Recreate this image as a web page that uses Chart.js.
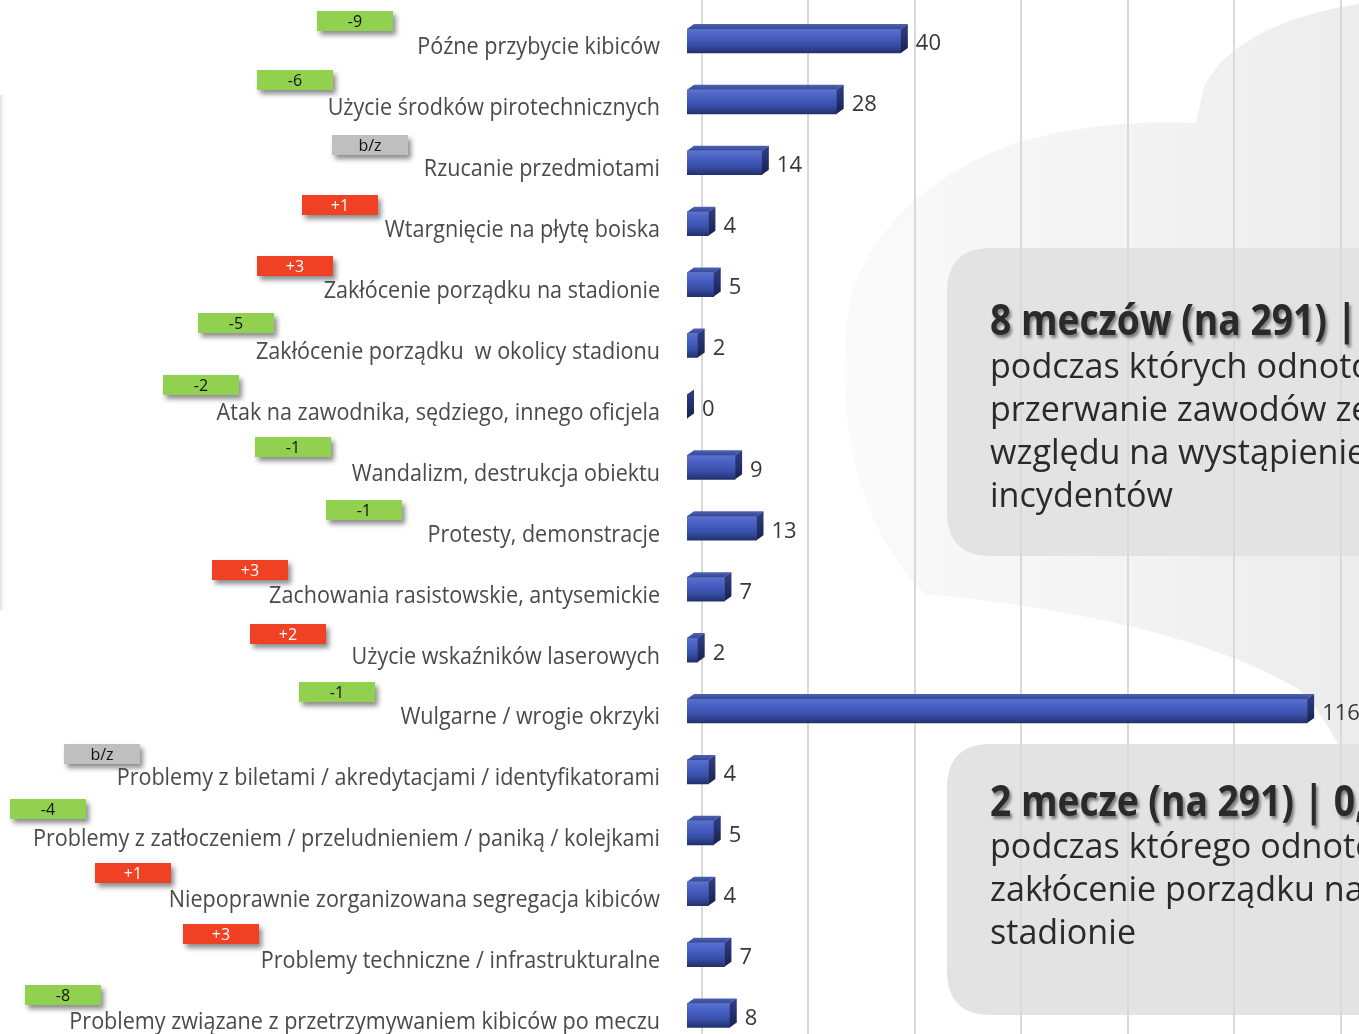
<!DOCTYPE html>
<html><head><meta charset="utf-8">
<script src="https://cdn.jsdelivr.net/npm/chart.js@4.4.1/dist/chart.umd.min.js"></script>
<style>
html,body{margin:0;padding:0;overflow:hidden;background:#fff;width:1359px;height:1034px}
canvas{position:absolute;left:0;top:0}
</style></head>
<body><canvas id="c" width="1359" height="1046"></canvas>
<script>
// ---- data ----
const categories = [
  'Późne przybycie kibiców',
  'Użycie środków pirotechnicznych',
  'Rzucanie przedmiotami',
  'Wtargnięcie na płytę boiska',
  'Zakłócenie porządku na stadionie',
  'Zakłócenie porządku  w okolicy stadionu',
  'Atak na zawodnika, sędziego, innego oficjela',
  'Wandalizm, destrukcja obiektu',
  'Protesty, demonstracje',
  'Zachowania rasistowskie, antysemickie',
  'Użycie wskaźników laserowych',
  'Wulgarne / wrogie okrzyki',
  'Problemy z biletami / akredytacjami / identyfikatorami',
  'Problemy z zatłoczeniem / przeludnieniem / paniką / kolejkami',
  'Niepoprawnie zorganizowana segregacja kibiców',
  'Problemy techniczne / infrastrukturalne',
  'Problemy związane z przetrzymywaniem kibiców po meczu'
];
const values = [40, 28, 14, 4, 5, 2, 0, 9, 13, 7, 2, 116, 4, 5, 4, 7, 8];
const changes = ['-9', '-6', 'b/z', '+1', '+3', '-5', '-2', '-1', '-1', '+3', '+2', '-1', 'b/z', '-4', '+1', '+3', '-8'];
const gridTicks = [0, 20, 40, 60, 80, 100, 120];
const box1Title = '8 meczów (na 291) | 2,7%';
const box1Lines = ['podczas których odnotowano', 'przerwanie zawodów ze', 'względu na wystąpienie', 'incydentów'];
const box2Title = '2 mecze (na 291) | 0,7%';
const box2Lines = ['podczas którego odnotowano', 'zakłócenie porządku na', 'stadionie'];

// ---- layout (positions of change badges) ----
const badgeLeft = [317, 257, 332, 302, 257, 198, 163, 255, 326, 212, 250, 299, 64, 10, 95, 183, 25];
const badgeTopOff = [-30, -32, -28, -29, -29, -33, -31, -30, -28, -29, -26, -29, -28, -34, -31, -31, -31];

const FONT = '"Open Sans", "DejaVu Sans", sans-serif';
const DX = 7, DY = -5;

function badgeStyle(t) {
  if (t === 'b/z') return { bg: '#bfbfbf', fg: '#111' };
  if (t.charAt(0) === '+') return { bg: '#f04124', fg: '#fff' };
  return { bg: '#92d050', fg: '#111' };
}

function fitFactor(ctx, font, sample, target) {
  ctx.save(); ctx.font = font;
  const w = ctx.measureText(sample).width;
  ctx.restore();
  return target / w;
}

function roundRect(ctx, x, y, w, h, r) {
  ctx.beginPath();
  ctx.moveTo(x + r, y);
  ctx.lineTo(x + w - r, y);
  ctx.quadraticCurveTo(x + w, y, x + w, y + r);
  ctx.lineTo(x + w, y + h - r);
  ctx.quadraticCurveTo(x + w, y + h, x + w - r, y + h);
  ctx.lineTo(x + r, y + h);
  ctx.quadraticCurveTo(x, y + h, x, y + h - r);
  ctx.lineTo(x, y + r);
  ctx.quadraticCurveTo(x, y, x + r, y);
  ctx.closePath();
}

const backgroundPlugin = {
  id: 'bgDecor',
  beforeDraw(chart) {
    const ctx = chart.ctx;
    ctx.save();
    ctx.fillStyle = '#fff';
    ctx.fillRect(0, 0, chart.width, chart.height);
    // faint silhouette
    const g = ctx.createLinearGradient(840, 0, 1359, 0);
    g.addColorStop(0, '#fafafa');
    g.addColorStop(0.5, '#f4f4f4');
    g.addColorStop(1, '#ececec');
    ctx.fillStyle = g;
    ctx.beginPath();
    ctx.moveTo(1359, 4);
    ctx.bezierCurveTo(1290, 15, 1225, 40, 1203, 90);
    ctx.lineTo(1196, 123);
    ctx.bezierCurveTo(1150, 120, 1070, 125, 1010, 145);
    ctx.bezierCurveTo(930, 175, 870, 230, 850, 300);
    ctx.bezierCurveTo(835, 400, 850, 520, 925, 594);
    ctx.bezierCurveTo(1040, 605, 1200, 630, 1300, 690);
    ctx.bezierCurveTo(1330, 720, 1345, 760, 1359, 790);
    ctx.closePath();
    ctx.fill();
    // faint left edge
    const lg = ctx.createLinearGradient(0, 0, 6, 0);
    lg.addColorStop(0, 'rgba(200,200,200,0.6)');
    lg.addColorStop(1, 'rgba(255,255,255,0)');
    ctx.fillStyle = lg;
    ctx.fillRect(0, 95, 6, 515);
    // info boxes
    ctx.fillStyle = '#e3e3e3';
    roundRect(ctx, 947, 248, 500, 308, 44); ctx.fill();
    roundRect(ctx, 947, 744, 500, 271, 44); ctx.fill();
    ctx.restore();
  },
  beforeDatasetsDraw(chart) {
    const ctx = chart.ctx;
    const xg = chart.scales.xg;
    ctx.save();
    ctx.strokeStyle = '#d9d9d9';
    ctx.lineWidth = 2;
    gridTicks.forEach(v => {
      const x = Math.round(xg.getPixelForValue(v));
      ctx.beginPath(); ctx.moveTo(x, 0); ctx.lineTo(x, chart.height); ctx.stroke();
    });
    // info box texts
    const titleFont = 'bold 43px ' + FONT;
    const bodyFont = '35px ' + FONT;
    const st = fitFactor(ctx, titleFont, '8 meczów (na 291) |', 367);
    const sb = fitFactor(ctx, bodyFont, 'incydentów', 183);
    function drawBox(title, lines, titleBase, firstBase) {
      ctx.save();
      ctx.font = titleFont;
      ctx.fillStyle = '#2a2a2a';
      ctx.shadowColor = 'rgba(0,0,0,0.45)';
      ctx.shadowOffsetX = 2; ctx.shadowOffsetY = 3; ctx.shadowBlur = 3;
      ctx.translate(990, titleBase); ctx.scale(st, 1);
      ctx.fillText(title, 0, 0);
      ctx.restore();
      ctx.save();
      ctx.font = bodyFont;
      ctx.fillStyle = '#2a2a2a';
      lines.forEach((l, i) => {
        ctx.save();
        ctx.translate(990, firstBase + i * 43); ctx.scale(sb, 1);
        ctx.fillText(l, 0, 0);
        ctx.restore();
      });
      ctx.restore();
    }
    drawBox(box1Title, box1Lines, 335, 378);
    drawBox(box2Title, box2Lines, 816, 858);
    ctx.restore();
  },
  afterDatasetsDraw(chart) {
    const ctx = chart.ctx;
    const meta = chart.getDatasetMeta(0);
    ctx.save();
    meta.data.forEach((el, i) => {
      const p = el.getProps(['x', 'y', 'base', 'height'], true);
      const top = p.y - p.height / 2, bot = p.y + p.height / 2;
      const x0 = Math.min(p.base, p.x), x1 = Math.max(p.base, p.x);
      // top face
      const tg = ctx.createLinearGradient(0, top + DY, 0, top);
      tg.addColorStop(0, '#4d62b4');
      tg.addColorStop(1, '#34489200'.slice(0, 7));
      ctx.fillStyle = tg;
      ctx.beginPath();
      ctx.moveTo(x0, top);
      ctx.lineTo(x0 + DX, top + DY);
      ctx.lineTo(x1 + DX, top + DY);
      ctx.lineTo(x1, top);
      ctx.closePath();
      ctx.fill();
      // side face
      const sg = ctx.createLinearGradient(0, top, 0, bot);
      sg.addColorStop(0, '#2c3b80');
      sg.addColorStop(1, '#18214f');
      ctx.fillStyle = sg;
      ctx.beginPath();
      ctx.moveTo(x1, top);
      ctx.lineTo(x1 + DX, top + DY);
      ctx.lineTo(x1 + DX, bot + DY);
      ctx.lineTo(x1, bot);
      ctx.closePath();
      ctx.fill();
      // value label
      ctx.font = '22px ' + FONT;
      ctx.fillStyle = '#383838';
      ctx.textAlign = 'left';
      ctx.textBaseline = 'alphabetic';
      ctx.fillText(String(values[i]), x1 + DX + 8, p.y + 9.5);
    });
    ctx.restore();
  },
  afterDraw(chart) {
    const ctx = chart.ctx;
    const ys = chart.scales.y;
    const labelFont = '23px ' + FONT;
    const sl = fitFactor(ctx, labelFont, categories[13], 627);
    ctx.save();
    categories.forEach((c, i) => {
      const yc = ys.getPixelForValue(i);
      // badge
      const bs = badgeStyle(changes[i]);
      const bx = badgeLeft[i], by = Math.round(yc + badgeTopOff[i]);
      ctx.save();
      ctx.shadowColor = 'rgba(0,0,0,0.45)';
      ctx.shadowOffsetX = 3; ctx.shadowOffsetY = 4; ctx.shadowBlur = 5;
      ctx.fillStyle = bs.bg;
      ctx.fillRect(bx, by, 76, 20);
      ctx.restore();
      ctx.font = '16px ' + FONT;
      ctx.fillStyle = bs.fg;
      ctx.textAlign = 'center';
      ctx.textBaseline = 'alphabetic';
      ctx.fillText(changes[i], bx + 38, by + 16);
      // category label
      ctx.save();
      ctx.font = labelFont;
      ctx.fillStyle = '#4a4a4a';
      ctx.textAlign = 'right';
      ctx.translate(660, yc + 13.5);
      ctx.scale(sl, 1);
      ctx.fillText(c, 0, 0);
      ctx.restore();
    });
    ctx.restore();
  }
};

const ctx = document.getElementById('c').getContext('2d');
new Chart(ctx, {
  type: 'bar',
  data: {
    labels: categories,
    datasets: [{
      data: values,
      borderWidth: 0,
      barThickness: 24,
      xAxisID: 'x',
      yAxisID: 'y',
      backgroundColor: (c) => {
        const ch = c.chart;
        const ys = ch.scales && ch.scales.y;
        if (!ys || c.dataIndex === undefined || !ch.chartArea) return '#3f58b8';
        const yc = ys.getPixelForValue(c.dataIndex);
        const g = ch.ctx.createLinearGradient(0, yc - 12, 0, yc + 12);
        g.addColorStop(0, '#5a71cf');
        g.addColorStop(0.3, '#4860c2');
        g.addColorStop(0.65, '#3850aa');
        g.addColorStop(1, '#23316c');
        return g;
      }
    }]
  },
  options: {
    indexAxis: 'y',
    responsive: false,
    animation: false,
    devicePixelRatio: 1,
    layout: { padding: { top: 10.5, right: 0, bottom: 0, left: 0 } },
    plugins: { legend: { display: false }, tooltip: { enabled: false } },
    scales: {
      x: { type: 'linear', min: 0, max: 125.7, display: false },
      xg: { type: 'linear', axis: 'x', position: 'bottom', min: -2.82, max: 123.4, display: false },
      y: {
        type: 'category',
        display: true,
        ticks: { display: false },
        grid: { display: false, drawTicks: false },
        border: { display: false },
        afterFit: (s) => { s.width = 687; }
      }
    }
  },
  plugins: [backgroundPlugin]
});
</script>
</body></html>
